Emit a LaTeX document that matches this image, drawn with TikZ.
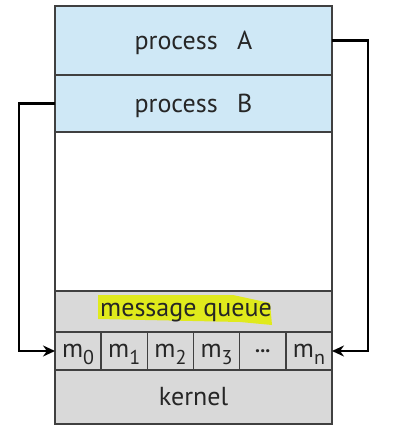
\documentclass[tikz,border=0pt]{standalone}
\usepackage{fontspec}
\setmainfont{PT Sans}
\usetikzlibrary{arrows.meta}
\definecolor{procblue}{HTML}{CFE8F6}
\definecolor{kgray}{HTML}{D9D9D9}
\definecolor{hl}{HTML}{E0EA1C}
\definecolor{txt}{HTML}{262626}
\newcommand{\msub}[1]{m\raisebox{-7pt}[0pt][0pt]{\fontsize{20}{20}\selectfont #1}}
\begin{document}
\begin{tikzpicture}[x=1pt,y=-1pt,
  region/.style={draw=black!75, line width=1.4pt, minimum width=277pt, inner sep=0pt, outer sep=0pt, text=txt, font=\fontsize{26}{28}\selectfont},
  slot/.style={draw=black!75, line width=1.4pt, fill=kgray, minimum width=277pt/6, minimum height=38pt, inner sep=0pt, outer sep=0pt, text=txt, font=\fontsize{26}{28}\selectfont},
  arr/.style={line width=2.6pt, -{Stealth[length=12pt,width=11pt]}}]
\useasboundingbox (0,0) rectangle (402,430);
\node[region, fill=procblue, minimum height=69pt, text depth=0pt] (A) at (193.5,40.5) {process\hspace{0.75em}A};
\node[region, fill=procblue, minimum height=57pt, text depth=0pt] (B) at (193.5,103.5) {process\hspace{0.75em}B};
\node[region, fill=white, minimum height=159pt] (W) at (193.5,211.5) {};
\node[region, fill=kgray, minimum height=41pt] (Q) at (193.5,311.5) {};
\fill[hl] (98,295) -- (233,295) -- (270,303) -- (272,325) -- (240,322) -- (98,319) -- cycle;
\node[text=txt, font=\fontsize{26}{28}\selectfont, inner sep=0pt, text depth=0pt] (QL) at (186,309.5) {message queue};
\node[slot] (m0) at (78.08,351) {\msub{0}};
\node[slot] (m1) at (124.25,351) {\msub{1}};
\node[slot] (m2) at (170.42,351) {\msub{2}};
\node[slot] (m3) at (216.58,351) {\msub{3}};
\node[slot] (md) at (262.75,351) {\raisebox{-3pt}{\fontsize{20}{20}\selectfont\bfseries ...}};
\node[slot] (mn) at (308.92,351) {\msub{n}};
\node[region, fill=kgray, minimum height=54pt] (K) at (193.5,397) {kernel};
\draw[arr] (B.west) -- ++(-36,0) coordinate (bl) |- (m0.west);
\draw[arr] (A.east) -- ++(36,0) coordinate (ar) |- (mn.east);
\end{tikzpicture}
\end{document}
